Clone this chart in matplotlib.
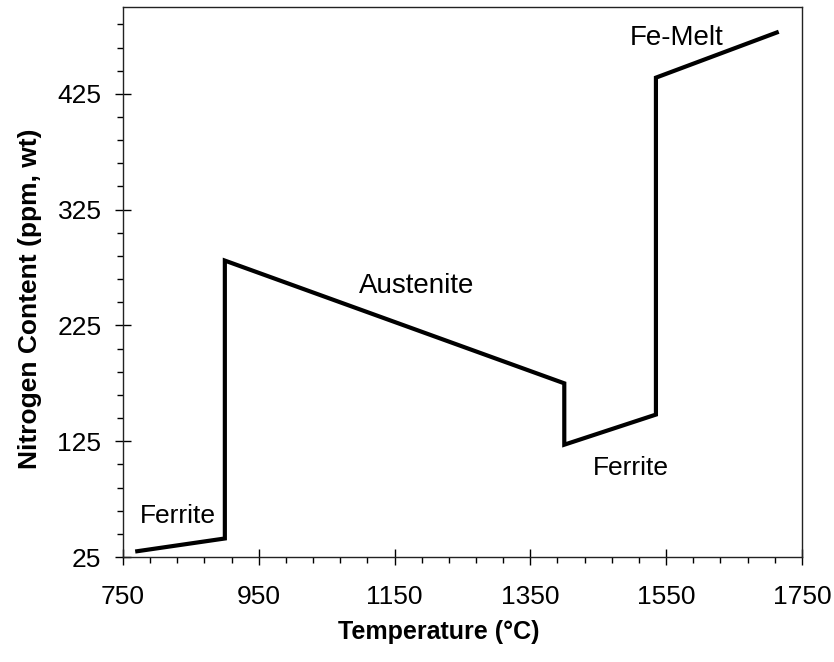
import matplotlib
matplotlib.use("Agg")
import matplotlib.pyplot as plt

plt.rcParams["font.family"] = ["Liberation Sans", "DejaVu Sans"]

# nitrogen solubility in iron vs temperature
temperature = [771, 900, 900, 1400, 1400, 1535, 1535, 1713]
nitrogen = [30, 41, 281, 175, 122, 148, 439, 478]

phase_names = ["Ferrite", "Austenite", "Ferrite", "Fe-Melt"]
phase_x = [831, 1183, 1498, 1566]
phase_y = [54, 253, 96, 467]
phase_size = [19, 20, 19, 20]

x_ticks = [750, 950, 1150, 1350, 1550, 1750]
y_ticks = [25, 125, 225, 325, 425]

fig = plt.figure(figsize=(8.34, 6.62), dpi=100)
ax = fig.add_axes([0.1475, 0.1586, 0.814, 0.8308])

ax.plot(temperature, nitrogen, color="black", lw=3, solid_joinstyle="miter")

for name, x, y, fs in zip(phase_names, phase_x, phase_y, phase_size):
    ax.text(x, y, name, fontsize=fs, ha="center", va="baseline")

ax.set_xlim(750, 1750)
ax.set_ylim(25, 500)
ax.set_xticks(x_ticks)
ax.set_xticks(range(750, 1751, 40), minor=True)
ax.set_yticks(y_ticks)
ax.set_yticks(range(25, 501, 20), minor=True)
ax.tick_params(which="major", direction="inout", length=12, width=1, labelsize=19)
ax.tick_params(which="minor", direction="out", length=4.5, width=1)
ax.tick_params(axis="x", which="major", pad=14)
ax.tick_params(axis="y", which="major", pad=9.5)

for s in ax.spines.values():
    s.set_linewidth(1)
    s.set_color("#222222")

ax.set_xlabel("Temperature (°C)", fontsize=18, fontweight="bold")
ax.set_ylabel("Nitrogen Content (ppm, wt)", fontsize=19, fontweight="bold")
ax.xaxis.set_label_coords(0.465, -0.114)
ax.yaxis.set_label_coords(-0.119, 0.469)

fig.savefig("out.png", dpi=100)
